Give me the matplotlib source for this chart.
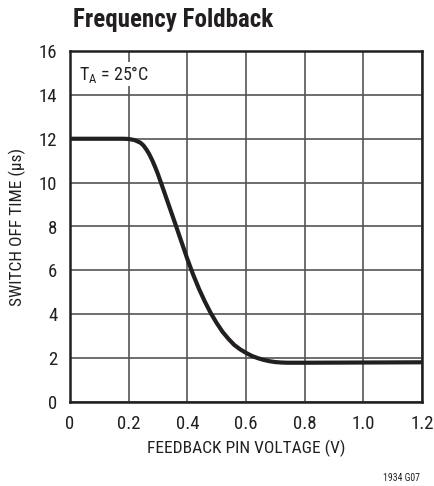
import matplotlib
matplotlib.use("Agg")
import matplotlib.pyplot as plt
from matplotlib import font_manager

fams = {f.name for f in font_manager.fontManager.ttflist}
cond = "Roboto Condensed" if "Roboto Condensed" in fams else "Liberation Sans"
plt.rcParams['font.family'] = [cond, 'DejaVu Sans']

vfb = [0.0, 0.1, 0.18, 0.2, 0.22, 0.24, 0.25, 0.26, 0.27, 0.28, 0.29, 0.30, 0.32, 0.34,
       0.36, 0.38, 0.40, 0.42, 0.44, 0.46, 0.48, 0.50, 0.52, 0.54, 0.56, 0.58, 0.60,
       0.62, 0.64, 0.66, 0.68, 0.70, 0.72, 0.74, 0.8, 1.0, 1.2]
toff = [12.0, 12.0, 12.0, 11.99, 11.94, 11.82, 11.7, 11.52, 11.3, 11.03, 10.72, 10.38,
        9.62, 8.85, 8.08, 7.3, 6.52, 5.8, 5.15, 4.57, 4.05, 3.6, 3.2, 2.88, 2.6, 2.4,
        2.24, 2.1, 2.0, 1.92, 1.86, 1.82, 1.8, 1.79, 1.79, 1.8, 1.81]
xticks = [0, 0.2, 0.4, 0.6, 0.8, 1.0, 1.2]
xlabels = ["0", "0.2", "0.4", "0.6", "0.8", "1.0", "1.2"]
yticks = [0, 2, 4, 6, 8, 10, 12, 14, 16]

ink = "#231f20"
fig = plt.figure(figsize=(4.35, 4.86), dpi=100)
ax = fig.add_axes([70/435, 1-402/486, 352/435, 351/486])
ax.plot(vfb, toff, color=ink, lw=3.0, solid_capstyle="butt", solid_joinstyle="round", zorder=3)
ax.set_xlim(0, 1.2)
ax.set_ylim(0, 16)
ax.set_xticks(xticks)
ax.set_xticklabels(xlabels)
ax.set_yticks(yticks)
ax.grid(True, color="#555555", lw=1.2)
ax.set_axisbelow(True)
for s in ax.spines.values():
    s.set_linewidth(1.8)
    s.set_color(ink)
ax.tick_params(length=0, labelsize=13.5, colors=ink)
ax.tick_params(axis="x", pad=9)
ax.tick_params(axis="y", pad=9)
ax.set_xlabel("FEEDBACK PIN VOLTAGE (V)", fontsize=12.5, color=ink)
ax.set_ylabel("SWITCH OFF TIME (µs)", fontsize=12.5, color=ink)
ax.xaxis.set_label_coords(0.5, -38/351, transform=ax.transAxes)
ax.yaxis.set_label_coords(-44/352, 0.5, transform=ax.transAxes)
ax.xaxis.label.set_va("top")
ax.text(0.03, 14.95, r"T$_\mathregular{A}$ = 25°C", fontsize=13, va="center", ha="left",
        color=ink, bbox=dict(facecolor="white", edgecolor="none", pad=1), zorder=4)
fig.text(73/435, 1-20/486, "Frequency Foldback", fontsize=18, fontweight="bold",
         va="center", ha="left", color=ink)
fig.text(420/435, 1-478/486, "1934 G07", fontsize=7, ha="right", va="center", color=ink)
fig.savefig("out.png", dpi=100)
